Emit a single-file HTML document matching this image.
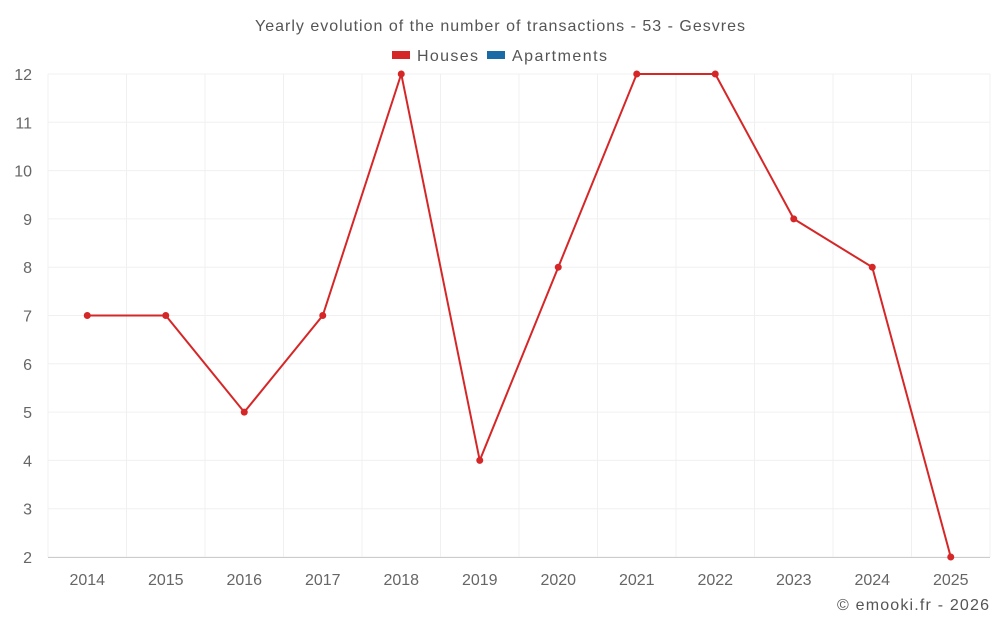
<!DOCTYPE html>
<html><head><meta charset="utf-8">
<style>
body{margin:0;background:#fff;font-family:"Liberation Sans",sans-serif;}
svg text{font-family:"Liberation Sans",sans-serif;}
</style></head>
<body>
<svg id="chart" width="1000" height="625" xmlns="http://www.w3.org/2000/svg">
<text x="500" y="31" text-anchor="middle" font-size="16" fill="#555" textLength="490">Yearly evolution of the number of transactions - 53 - Gesvres</text>
<g>
<g><rect x="392" y="51" width="18" height="8" fill="#d62728"/><text x="417" y="61" font-size="16" fill="#555" textLength="61">Houses</text></g>
<g><rect x="487" y="51" width="18" height="8" fill="#1a6aa5"/><text x="512" y="61" font-size="16" fill="#555" textLength="95">Apartments</text></g>
</g>
<g id="grid"></g>
<g id="axes"></g>
<g id="series"></g>
<text x="989" y="610" text-anchor="end" font-size="16" fill="#555" textLength="152">© emooki.fr - 2026</text>
</svg>
<script>
const years=["2014","2015","2016","2017","2018","2019","2020","2021","2022","2023","2024","2025"];
const houses=[7,7,5,7,12,4,8,12,12,9,8,2];
const yTicks=[2,3,4,5,6,7,8,9,10,11,12];
const L=48,R=990,T=74,B=557,yMin=2,yMax=12;
const NS="http://www.w3.org/2000/svg";
const bw=(R-L)/years.length;
const x=i=>L+bw*(i+0.5);
const y=v=>B-(v-yMin)/(yMax-yMin)*(B-T);
function mk(tag,attrs,parent,txt){const e=document.createElementNS(NS,tag);for(const k in attrs)e.setAttribute(k,attrs[k]);if(txt!==undefined)e.textContent=txt;parent.appendChild(e);return e;}
const grid=document.getElementById('grid'),axes=document.getElementById('axes'),series=document.getElementById('series');
yTicks.forEach(v=>{
  const g=mk('line',{x1:L,x2:R,y1:y(v),y2:y(v),stroke:'#f0f0f0','stroke-width':1},grid);
  
  
  const t=mk('text',{x:32,y:y(v)+6,'text-anchor':'end','font-size':16,fill:'#666'},axes,String(v));
  
  
});
for(let i=0;i<=years.length;i++){
  const g=mk('line',{x1:L+bw*i,x2:L+bw*i,y1:T,y2:B,stroke:'#f0f0f0','stroke-width':1},grid);
  
  
}
const ax=mk('line',{x1:L,x2:R,y1:B+0.5,y2:B+0.5,stroke:'#ccc','stroke-width':1},axes);


years.forEach((yr,i)=>{
  const t=mk('text',{x:x(i),y:585,'text-anchor':'middle','font-size':16,fill:'#666'},axes,yr);
  
  
});
const pl=mk('polyline',{points:houses.map((v,i)=>x(i)+','+y(v)).join(' '),fill:'none',stroke:'#d62728','stroke-width':2},series);


houses.forEach((v,i)=>{
  const c=mk('circle',{cx:x(i),cy:y(v),r:3.5,fill:'#d62728'},series);
  
  
});
</script>
</body></html>
